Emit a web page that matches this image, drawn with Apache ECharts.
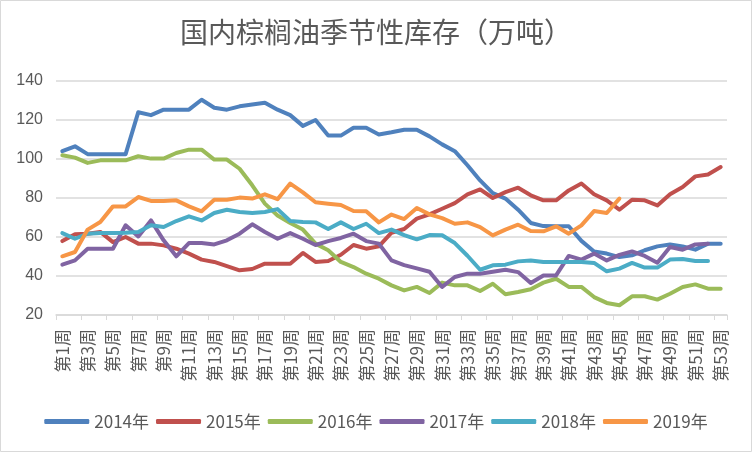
<!DOCTYPE html>
<html>
<head>
<meta charset="utf-8">
<script src="https://cdn.jsdelivr.net/npm/echarts@6/dist/echarts.min.js"></script>
<style>
html,body{margin:0;padding:0;background:#fff;}
#chart{width:752px;height:452px;}
</style>
</head>
<body>
<div id="chart"></div>
<script>
var titleText = '国内棕榈油季节性库存（万吨）';
var weeks = [];
for (var i = 1; i <= 53; i++) weeks.push('第' + i + '周');

var seriesNames = ['2014年', '2015年', '2016年', '2017年', '2018年', '2019年'];

var y2014 = [104,106.5,102.5,102.5,102.5,102.5,124,122.5,125.3,125.3,125.3,130.4,126.3,125.3,127,128,128.9,125.3,
  122.5,117,120,112,112,116,116,112.6,113.7,115,115,111.6,107.5,104,96.8,89,82.5,
  79.7,74,67.2,65.6,65.5,65.5,58,52.6,51.5,49.7,50.6,53.2,55.2,56.2,55.2,53.5,56.6,56.6];
var y2015 = [57.9,61.4,61.7,62.6,57.4,60,56.6,56.6,55.7,54,51.5,48.4,47.2,45.1,42.9,43.6,46.3,46.3,
  46.3,51.8,47.2,47.7,50.9,55.9,54,55.2,62.2,64.1,69.4,71.6,74.5,77.4,81.9,84.4,80,
  83,85.3,81.4,78.8,78.8,83.9,87.4,81.9,78.8,74,79.1,78.8,76.2,81.9,85.6,91.1,92.1,95.9];
var y2016 = [101.9,100.7,98,99.3,99.3,99.3,101.4,100.2,100.2,103.1,104.8,104.8,99.7,99.7,95,86.5,77.1,71,
  67.2,63.8,56.6,53.2,47.2,44.6,41.2,38.6,35.2,32.6,34.4,31.3,36.6,35.2,35.2,32.3,36,
  30.6,31.8,33.2,36.6,38.6,34.4,34.4,29.2,26.2,25,29.6,29.6,27.9,30.9,34.4,35.7,33.5,33.5];
var y2017 = [45.8,48,54,54,54,66,60.3,68.5,58.3,50.1,56.9,56.9,56.2,58.3,61.7,66.5,62.6,59.1,
  62,59.1,55.9,57.9,59.5,61.7,57.9,56.6,48,45.6,43.9,42.2,34.4,39.5,41.2,41.2,42.2,
  43.2,42,36.4,40.3,40.3,50.3,48.4,51.5,48,50.8,52.6,50.3,46.8,54.9,53.5,56.2,56.6,null];
var y2018 = [62,59.1,61.7,62,62,62.2,62.6,66,65.1,68.2,70.6,68.5,72.3,74,72.8,72.3,72.8,74.3,
  68.2,67.7,67.5,64.1,67.5,64.1,66.8,62,63.8,61,58.8,61,60.9,56.9,50.4,43.2,45.5,
  45.8,47.5,48,47.2,47.2,47.2,47.2,46.7,42.4,43.8,46.7,44.3,44.3,48.4,48.7,47.7,47.7,null];
var y2019 = [50.1,52.3,63.8,67.7,75.7,75.7,80.5,78.5,78.5,78.8,75.7,73.2,79.1,79.1,80.2,79.7,81.9,79.4,
  87.4,82.9,77.8,77.1,76.4,73.3,73.2,67.5,71.5,69.2,74.9,71.6,69.7,66.8,67.5,65.1,60.8,
  63.8,66.3,63.1,62.9,65.5,61.7,66,73.3,72.3,79.7,null,null,null,null,null,null,null,null];

var yTicks = {min: 20, max: 140, interval: 20};
var colors = ['#4F81BD', '#C0504D', '#9BBB59', '#8064A2', '#4BACC6', '#F79646'];
var allData = [y2014, y2015, y2016, y2017, y2018, y2019];

var chart = echarts.init(document.getElementById('chart'));
var series = seriesNames.map(function (n, i) {
  return {
    name: n, type: 'line', data: allData[i], symbol: 'none', showSymbol: false,
    connectNulls: false,
    lineStyle: {width: 4, color: colors[i], cap: 'round', join: 'round'},
    itemStyle: {color: colors[i]}
  };
});

chart.setOption({
  animation: false,
  color: colors,
  graphic: [{
    type: 'rect', left: 0, top: 0, z: -10,
    shape: {x: 0.5, y: 0.5, width: 751, height: 451},
    style: {fill: '#fff', stroke: '#D9D9D9', lineWidth: 1}
  }],
  title: {
    text: titleText, left: 'center', top: 13,
    textStyle: {fontFamily: 'Noto Sans CJK SC', fontSize: 28, fontWeight: 'normal', color: '#595959'}
  },
  grid: {left: 56, right: 25, top: 81, bottom: 137, containLabel: false},
  legend: {
    data: seriesNames, left: 'center', top: 408, icon: 'roundRect',
    itemWidth: 45, itemHeight: 5, itemGap: 7,
    textStyle: {fontFamily: 'Noto Sans CJK SC', fontSize: 17, color: '#595959'}
  },
  xAxis: {
    type: 'category', data: weeks, boundaryGap: true,
    axisLine: {show: true, lineStyle: {color: '#D9D9D9', width: 1.5}},
    axisTick: {show: true, interval: 1, length: 5, lineStyle: {color: '#D9D9D9'}},
    axisLabel: {interval: 1, rotate: 90, margin: 14, fontFamily: 'Noto Sans CJK SC', fontSize: 17, color: '#595959'}
  },
  yAxis: {
    type: 'value', min: yTicks.min, max: yTicks.max, interval: yTicks.interval,
    axisLine: {show: false}, axisTick: {show: false},
    axisLabel: {margin: 13, fontFamily: 'Liberation Sans', fontSize: 16, color: '#595959'},
    splitLine: {lineStyle: {color: '#D9D9D9', width: 1.5}}
  },
  series: series
});
</script>
</body>
</html>
